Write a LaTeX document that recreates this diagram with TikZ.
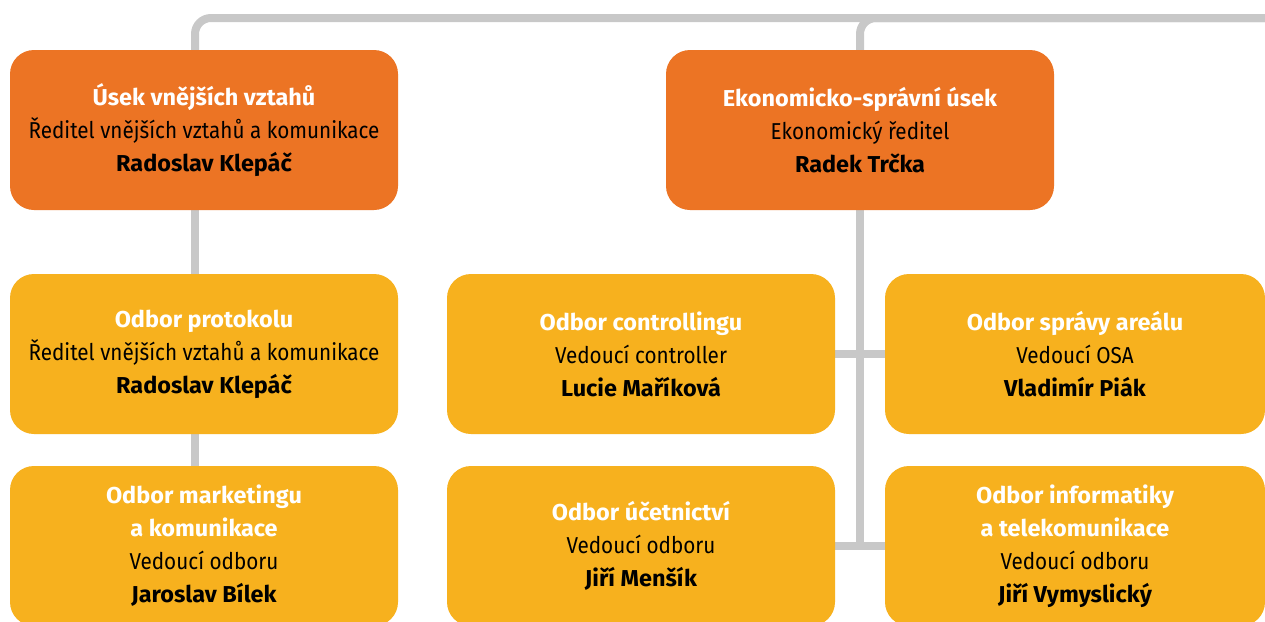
\documentclass[tikz,border=0pt]{standalone}
\usepackage{fontspec}
\setmainfont{Fira Sans}[FakeStretch=0.9]
\newfontfamily\boldfam{Fira Sans}[FakeStretch=1.02]
\usetikzlibrary{backgrounds,calc}
\definecolor{orangeA}{RGB}{236,116,36}
\definecolor{yellowB}{RGB}{247,177,30}
\definecolor{grayL}{RGB}{200,200,200}
\tikzset{
  box/.style={rounded corners=24pt, minimum width=388pt, minimum height=160pt, inner sep=0pt, align=center, font=\fontsize{23}{33}\selectfont, text=black},
  topbox/.style={box, fill=orangeA},
  subbox/.style={box, fill=yellowB},
  conn/.style={draw=grayL, line width=8pt}
}
\newcommand{\ttlw}[1]{\textcolor{white}{\boldfam\bfseries #1}}
\newcommand{\nm}[1]{{\boldfam\bfseries #1}}
\begin{document}
\begin{tikzpicture}[x=1pt,y=-1pt]
\useasboundingbox (0,0) rectangle (1265,621);
\node[topbox] (a) at (204,130) {\ttlw{Úsek vnějších vztahů}\\Ředitel vnějších vztahů a komunikace\\\nm{Radoslav Klepáč}};
\node[topbox] (b) at (860,130) {\ttlw{Ekonomicko-správní úsek}\\Ekonomický ředitel\\\nm{Radek Trčka}};
\node[subbox] (a2) at (204,354) {\ttlw{Odbor protokolu}\\Ředitel vnějších vztahů a komunikace\\\nm{Radoslav Klepáč}};
\node[subbox] (a3) at (204,546) {\ttlw{Odbor marketingu}\\\ttlw{a komunikace}\\Vedoucí odboru\\\nm{Jaroslav Bílek}};
\node[subbox] (c2) at (641,354) {\ttlw{Odbor controllingu}\\Vedoucí controller\\\nm{Lucie Maříková}};
\node[subbox] (c3) at (641,546) {\ttlw{Odbor účetnictví}\\Vedoucí odboru\\\nm{Jiří Menšík}};
\node[subbox, minimum width=380pt] (d2) at (1075,354) {\ttlw{Odbor správy areálu}\\Vedoucí OSA\\\nm{Vladimír Piák}};
\node[subbox, minimum width=380pt] (d3) at (1075,546) {\ttlw{Odbor informatiky}\\\ttlw{a telekomunikace}\\Vedoucí odboru\\\nm{Jiří Vymyslický}};
\coordinate (tr) at (1280,18);
\begin{scope}[on background layer]
\fill[white] (0,0) rectangle (1265,621);
\draw[conn, rounded corners=16pt] ([xshift=-9pt]a.north) |- (tr);
\draw[conn, rounded corners=16pt] (b.north) |- (tr);
\draw[conn] ([xshift=-9pt]a.south) -- ([xshift=-9pt]a2.north);
\draw[conn] ([xshift=-9pt]a2.south) -- ([xshift=-9pt]a3.north);
\draw[conn] (b.south) -- ([yshift=4pt]b.south |- c3.east);
\draw[conn] (c2.east) -- (d2.west);
\draw[conn] (c3.east) -- (d3.west);
\end{scope}
\end{tikzpicture}
\end{document}
